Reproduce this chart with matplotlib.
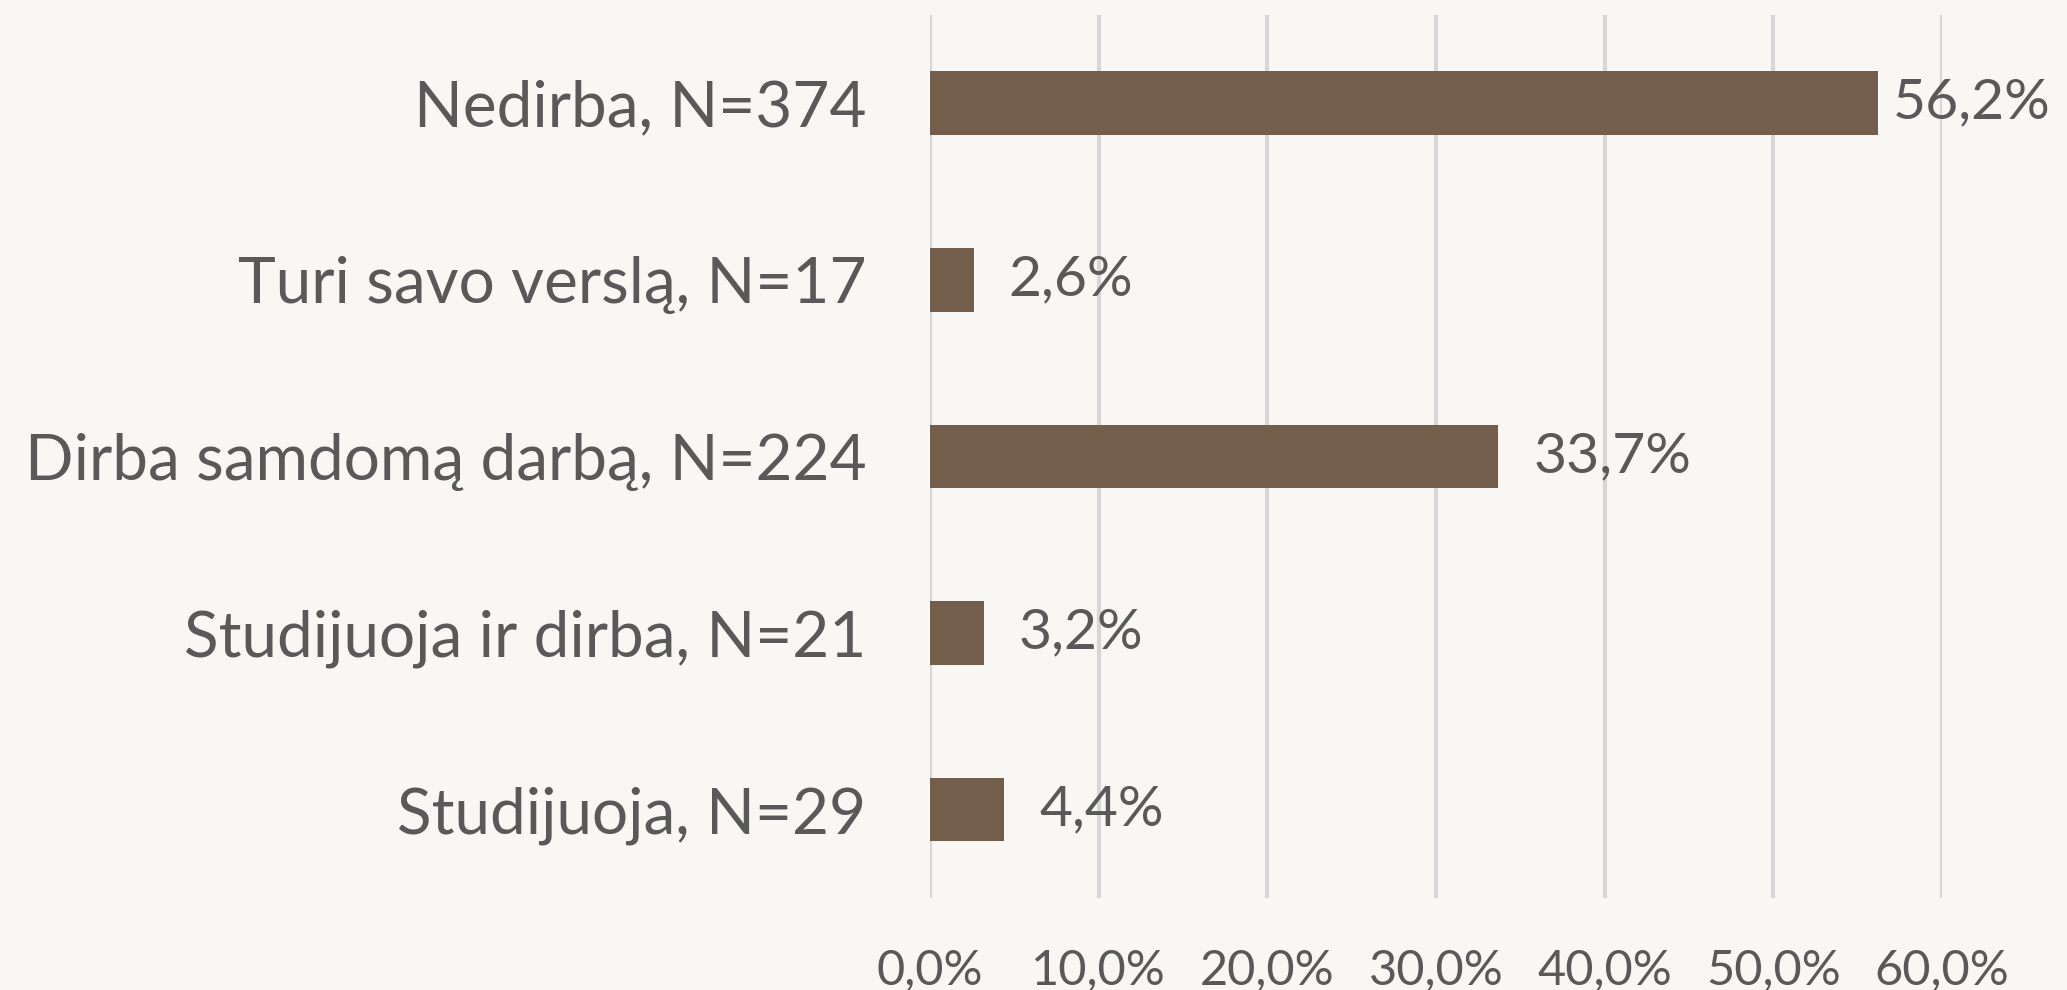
import matplotlib.pyplot as plt
from matplotlib.ticker import FuncFormatter

# categories top to bottom
categories = ["Nedirba, N=374", "Turi savo verslą, N=17", "Dirba samdomą darbą, N=224",
              "Studijuoja ir dirba, N=21", "Studijuoja, N=29"]
shares = [56.2, 2.6, 33.7, 3.2, 4.4]
xticks = [0, 10, 20, 30, 40, 50, 60]

bg = "#F8F7F4"
bar_color = "#735E4C"
text_color = "#595959"

plt.rcParams['font.family'] = ['Lato', 'DejaVu Sans']

fig = plt.figure(figsize=(20.67, 9.90), dpi=100, facecolor=bg)
ax = fig.add_axes([0.450, 0.093, 0.4895, 0.892])
ax.set_facecolor(bg)

y = list(range(len(categories)))
ax.barh(y, shares, height=0.36, color=bar_color, zorder=3)

ax.set_ylim(len(categories) - 0.5, -0.5)
ax.set_xlim(0, 60)
ax.set_xticks(xticks)
ax.xaxis.set_major_formatter(FuncFormatter(lambda v, p: f"{v:.1f}%".replace(".", ",")))
ax.set_yticks(y)
ax.set_yticklabels(categories)

ax.grid(axis='x', color="#D6D6D6", linewidth=3, zorder=0)
for s in ax.spines.values():
    s.set_visible(False)
ax.tick_params(axis='y', length=0, pad=46, labelsize=46, labelcolor=text_color)
ax.tick_params(axis='x', length=0, pad=36, labelsize=35, labelcolor=text_color)

# data labels
pads = [11, 25, 25, 25, 25]
for i, v in enumerate(shares):
    ax.annotate(f"{v:.1f}%".replace(".", ","), xy=(v, i), xytext=(pads[i], 0),
                textcoords='offset points', va='center', ha='left',
                fontsize=41, color=text_color)

fig.savefig("out.png", dpi=100, facecolor=bg)
